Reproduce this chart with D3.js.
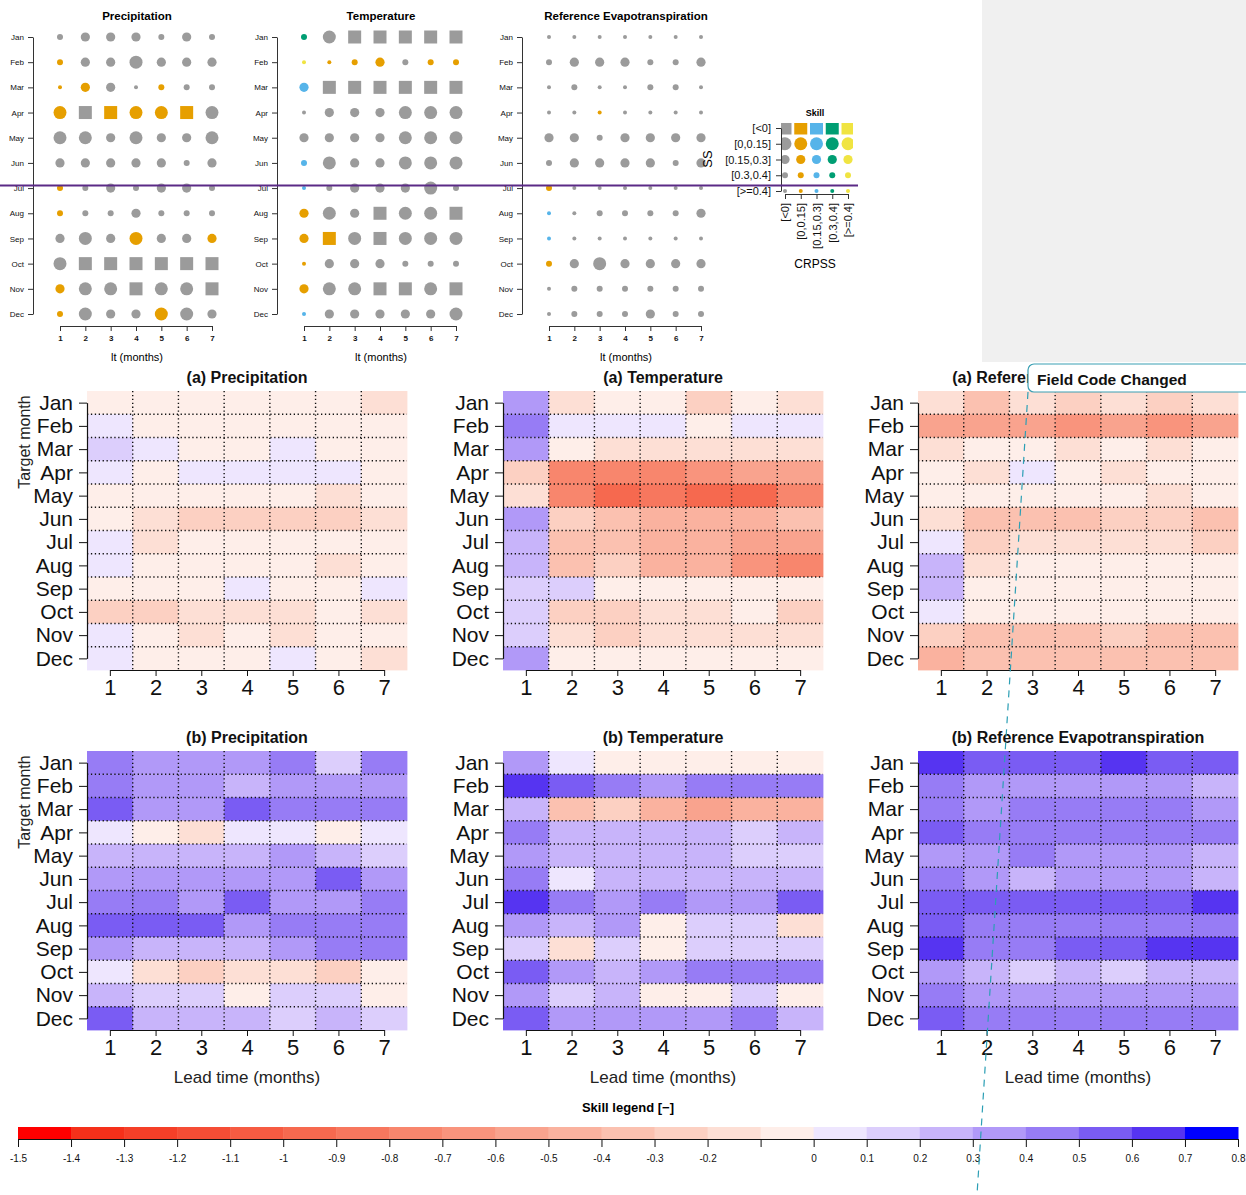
<!DOCTYPE html>
<html>
<head>
<meta charset="utf-8">
<script src="https://cdn.jsdelivr.net/npm/d3@7"></script>
<style>
  body { margin: 0; background: #fff; }
  svg { display: block; }
  text { font-family: "Liberation Sans", Arial, Helvetica, sans-serif; }
</style>
</head>
<body>
<svg id="chart" width="1246" height="1195"></svg>
<script>
// ---------- shared categories ----------
const months = ["Jan","Feb","Mar","Apr","May","Jun","Jul","Aug","Sep","Oct","Nov","Dec"];
const leadTimes = [1, 2, 3, 4, 5, 6, 7];
const ssClasses = ["[<0]", "[0,0.15]", "[0.15,0.3]", "[0.3,0.4]", "[>=0.4]"];
const crpssClasses = ["[<0]", "[0,0.15]", "[0.15,0.3]", "[0.3,0.4]", "[>=0.4]"];

// ---------- dot plots: SS class (symbol) and CRPSS class (colour), rows = target month, cols = lead time ----------
const dotPrecipSS = [
  [3,2,2,2,3,2,3],[3,2,2,1,2,2,2],[4,2,2,4,3,3,3],[1,0,0,1,1,0,1],
  [1,1,2,1,2,2,1],[2,2,2,2,2,3,2],[3,3,2,3,2,2,3],[3,3,3,2,3,3,3],
  [2,1,2,1,2,2,2],[1,0,0,0,0,0,0],[2,1,1,0,1,1,0],[3,1,2,2,1,1,2]
];
const dotPrecipCRPSS = [
  [0,0,0,0,0,0,0],[1,0,0,0,0,0,0],[1,1,0,0,1,0,0],[1,0,1,1,1,1,0],
  [0,0,0,0,0,0,0],[0,0,0,0,0,0,0],[1,0,0,0,0,0,0],[1,0,0,0,0,0,0],
  [0,0,0,1,0,0,1],[0,0,0,0,0,0,0],[1,0,0,0,0,0,0],[1,0,0,0,1,0,0]
];
const dotTempSS = [
  [3,1,0,0,0,0,0],[4,4,3,2,3,3,3],[2,0,0,0,0,0,0],[4,2,2,2,1,1,1],
  [2,2,2,2,1,1,1],[3,1,2,2,1,1,1],[4,3,2,2,2,1,3],[2,1,2,0,1,1,0],
  [2,0,1,0,1,1,1],[4,2,2,2,3,3,3],[2,1,1,0,0,1,0],[4,2,2,2,2,2,1]
];
const dotTempCRPSS = [
  [3,0,0,0,0,0,0],[4,1,1,1,0,1,1],[2,0,0,0,0,0,0],[0,0,0,0,0,0,0],
  [0,0,0,0,0,0,0],[2,0,0,0,0,0,0],[2,0,0,0,0,0,0],[1,0,0,0,0,0,0],
  [1,1,0,0,0,0,0],[1,0,0,0,0,0,0],[1,0,0,0,0,0,0],[2,0,0,0,0,0,0]
];
const dotEtSS = [
  [4,4,4,4,4,4,4],[3,2,2,2,3,3,2],[4,3,4,4,3,3,4],[4,4,4,4,4,4,4],
  [2,2,3,2,2,2,2],[3,2,2,2,2,3,2],[3,4,4,4,4,4,4],[4,4,3,3,3,3,2],
  [4,4,4,4,4,4,4],[3,2,1,2,2,2,2],[4,3,3,3,3,3,3],[4,3,3,3,2,3,3]
];
const dotEtCRPSS = [
  [0,0,0,0,0,0,0],[0,0,0,0,0,0,0],[0,0,0,0,0,0,0],[0,0,1,0,0,0,0],
  [0,0,0,0,0,0,0],[0,0,0,0,0,0,0],[1,0,0,0,0,0,0],[2,0,0,0,0,0,0],
  [2,0,0,0,0,0,0],[1,0,0,0,0,0,0],[0,0,0,0,0,0,0],[0,0,0,0,0,0,0]
];

// ---------- heatmaps: skill score, rows = target month, cols = lead time ----------
const heatPrecipA = [
  [-0.05,-0.05,-0.05,-0.05,-0.05,-0.05,-0.15],
  [ 0.05,-0.05,-0.05,-0.05,-0.05,-0.05,-0.05],
  [ 0.15, 0.05,-0.05,-0.05, 0.05,-0.05,-0.05],
  [ 0.05,-0.05, 0.05, 0.05, 0.05, 0.05,-0.05],
  [-0.05,-0.05,-0.05,-0.05,-0.05,-0.15,-0.05],
  [-0.05,-0.15,-0.25,-0.25,-0.25,-0.25,-0.15],
  [ 0.05,-0.15,-0.05,-0.05,-0.05,-0.05,-0.05],
  [ 0.05,-0.05,-0.05,-0.05,-0.05,-0.15,-0.05],
  [-0.05,-0.05,-0.05, 0.05,-0.05,-0.05, 0.05],
  [-0.25,-0.25,-0.15,-0.15,-0.15,-0.05,-0.15],
  [ 0.05,-0.05,-0.15,-0.05,-0.15,-0.05,-0.05],
  [ 0.05,-0.05,-0.05,-0.05, 0.05,-0.05,-0.15]
];
const heatTempA = [
  [ 0.35,-0.15,-0.05,-0.05,-0.25,-0.05,-0.15],
  [ 0.45, 0.05, 0.05, 0.05,-0.05, 0.05, 0.05],
  [ 0.32,-0.05,-0.15,-0.15,-0.15,-0.15,-0.15],
  [-0.25,-0.75,-0.75,-0.75,-0.65,-0.55,-0.55],
  [-0.15,-0.75,-0.95,-0.85,-0.95,-0.95,-0.75],
  [ 0.35,-0.25,-0.35,-0.45,-0.45,-0.45,-0.35],
  [ 0.25,-0.35,-0.35,-0.45,-0.45,-0.55,-0.55],
  [ 0.25,-0.35,-0.25,-0.45,-0.45,-0.65,-0.75],
  [ 0.15, 0.12,-0.05,-0.05,-0.05,-0.05,-0.05],
  [ 0.12,-0.25,-0.25,-0.15,-0.15,-0.05,-0.25],
  [ 0.12,-0.15,-0.25,-0.15,-0.15,-0.15,-0.15],
  [ 0.35,-0.05,-0.05,-0.05,-0.05,-0.05,-0.05]
];
const heatEtA = [
  [-0.15,-0.35,-0.15,-0.25,-0.15,-0.25,-0.15],
  [-0.55,-0.55,-0.55,-0.65,-0.55,-0.65,-0.55],
  [-0.15,-0.05,-0.05,-0.15,-0.05,-0.15,-0.05],
  [-0.05,-0.15, 0.05,-0.05,-0.15,-0.05,-0.05],
  [-0.05,-0.05,-0.05,-0.05,-0.05,-0.15,-0.05],
  [-0.15,-0.35,-0.35,-0.35,-0.25,-0.25,-0.35],
  [ 0.05,-0.25,-0.15,-0.15,-0.15,-0.15,-0.25],
  [ 0.25,-0.15,-0.05,-0.05,-0.05,-0.05,-0.05],
  [ 0.25,-0.05,-0.05,-0.05,-0.05,-0.05,-0.05],
  [ 0.05,-0.05,-0.05,-0.05,-0.05,-0.05,-0.05],
  [-0.25,-0.35,-0.35,-0.35,-0.25,-0.35,-0.35],
  [-0.45,-0.35,-0.35,-0.35,-0.35,-0.35,-0.35]
];
const heatPrecipB = [
  [ 0.45, 0.32, 0.32, 0.32, 0.45, 0.15, 0.45],
  [ 0.42, 0.32, 0.32, 0.22, 0.32, 0.35, 0.35],
  [ 0.55, 0.35, 0.35, 0.55, 0.42, 0.42, 0.45],
  [ 0.05,-0.05,-0.15, 0.05, 0.05,-0.05, 0.05],
  [ 0.25, 0.25, 0.25, 0.25, 0.35, 0.25, 0.15],
  [ 0.35, 0.35, 0.35, 0.32, 0.35, 0.52, 0.35],
  [ 0.45, 0.45, 0.35, 0.52, 0.35, 0.35, 0.45],
  [ 0.52, 0.52, 0.52, 0.35, 0.45, 0.45, 0.45],
  [ 0.35, 0.25, 0.25, 0.25, 0.32, 0.42, 0.42],
  [ 0.05,-0.15,-0.25,-0.15,-0.15,-0.25,-0.05],
  [ 0.25, 0.12, 0.15,-0.05, 0.15, 0.15,-0.05],
  [ 0.52, 0.25, 0.25, 0.25, 0.12, 0.25, 0.15]
];
const heatTempB = [
  [ 0.35, 0.05,-0.05,-0.05,-0.05,-0.05,-0.05],
  [ 0.65, 0.52, 0.45, 0.35, 0.45, 0.45, 0.45],
  [ 0.25,-0.35,-0.25,-0.45,-0.55,-0.45,-0.45],
  [ 0.45, 0.25, 0.25, 0.22, 0.22, 0.12, 0.25],
  [ 0.32, 0.22, 0.25, 0.22, 0.22, 0.15, 0.15],
  [ 0.42, 0.05, 0.25, 0.22, 0.25, 0.25, 0.22],
  [ 0.65, 0.45, 0.35, 0.42, 0.35, 0.32, 0.52],
  [ 0.32, 0.22, 0.35,-0.05, 0.12, 0.12,-0.15],
  [ 0.15,-0.15, 0.12,-0.05, 0.12, 0.12, 0.12],
  [ 0.52, 0.35, 0.25, 0.35, 0.45, 0.45, 0.45],
  [ 0.32, 0.12, 0.22,-0.05,-0.05, 0.12,-0.05],
  [ 0.52, 0.35, 0.32, 0.35, 0.35, 0.42, 0.22]
];
const heatEtB = [
  [ 0.62, 0.55, 0.52, 0.52, 0.65, 0.52, 0.55],
  [ 0.45, 0.35, 0.35, 0.35, 0.35, 0.32, 0.22],
  [ 0.45, 0.35, 0.45, 0.45, 0.45, 0.45, 0.35],
  [ 0.52, 0.45, 0.42, 0.45, 0.45, 0.42, 0.45],
  [ 0.35, 0.32, 0.42, 0.32, 0.32, 0.32, 0.25],
  [ 0.42, 0.32, 0.25, 0.32, 0.35, 0.32, 0.25],
  [ 0.55, 0.52, 0.52, 0.52, 0.52, 0.52, 0.62],
  [ 0.55, 0.42, 0.42, 0.45, 0.42, 0.45, 0.42],
  [ 0.65, 0.45, 0.45, 0.52, 0.52, 0.62, 0.62],
  [ 0.35, 0.22, 0.15, 0.22, 0.15, 0.22, 0.25],
  [ 0.45, 0.35, 0.32, 0.35, 0.35, 0.35, 0.35],
  [ 0.52, 0.42, 0.42, 0.42, 0.42, 0.42, 0.45]
];

// ---------- colour legend ticks ----------
const legendTicks = [-1.5,-1.4,-1.3,-1.2,-1.1,-1,-0.9,-0.8,-0.7,-0.6,-0.5,-0.4,-0.3,-0.2,-0.1,0,0.1,0.2,0.3,0.4,0.5,0.6,0.7,0.8];
const unlabelledTicks = [-0.1];

// ---------- styles ----------
const crpssColors = ["#9b9b9b", "#E69F00", "#56B4E9", "#009E73", "#F0E442"];
const symbolArea = [169, Math.PI * 6.5 * 6.5, Math.PI * 4.6 * 4.6, Math.PI * 3 * 3, Math.PI * 2 * 2];
const skillPalette = [
  "#ff0000","#f5301a","#f53f28","#f54d35","#f65b42","#f6694f","#f7775e","#f8866d",
  "#f9947d","#f9a38e","#fab29f","#fbc1b0","#fcd0c2","#fddfd5","#feeee9",
  "#eee6fe","#dccefc","#c8b4fa","#b199f8","#977cf5","#7a5cf3","#5634f1","#0000ff"
];
const skillColor = d3.scaleThreshold()
  .domain(d3.range(-14, 8).map(i => i / 10))
  .range(skillPalette);

const svg = d3.select("#chart");
const defs = svg.append("defs");

// side panel
svg.append("rect").attr("x", 982).attr("y", 0).attr("width", 264).attr("height", 362).attr("fill", "#f0f0f0");

function styleAxis(a, size, color) {
  a.selectAll("path,line").attr("stroke", color || "#222");
  a.selectAll("text").attr("font-size", size).attr("fill", "#111");
}

function symbolPath(ss) {
  return d3.symbol(ss === 0 ? d3.symbolSquare : d3.symbolCircle, symbolArea[ss])();
}

// ---------- dot plots ----------
const dotPanels = [
  { title: "Precipitation", x0: 33, ss: dotPrecipSS, cr: dotPrecipCRPSS },
  { title: "Temperature", x0: 277, ss: dotTempSS, cr: dotTempCRPSS },
  { title: "Reference Evapotranspiration", x0: 522, ss: dotEtSS, cr: dotEtCRPSS }
];

dotPanels.forEach(p => {
  const g = svg.append("g");
  const x = d3.scaleLinear().domain([1, 7]).range([p.x0 + 27, p.x0 + 179]);
  const y = d3.scalePoint().domain(months).range([37, 314]);

  const ya = g.append("g").attr("transform", `translate(${p.x0},0)`)
    .call(d3.axisLeft(y).tickSize(5).tickSizeOuter(0).tickPadding(4));
  styleAxis(ya, 8, "#333");
  const xa = g.append("g").attr("transform", "translate(0,326)")
    .call(d3.axisBottom(x).tickValues(leadTimes).tickFormat(d3.format("d")).tickSize(5).tickSizeOuter(0).tickPadding(4));
  styleAxis(xa, 8, "#333");
  xa.selectAll("text").attr("font-weight", "bold");

  g.append("text").attr("x", p.x0 + 104).attr("y", 20).attr("text-anchor", "middle")
    .attr("font-weight", "bold").attr("font-size", 11.5).text(p.title);
  g.append("text").attr("x", p.x0 + 104).attr("y", 361).attr("text-anchor", "middle")
    .attr("font-size", 11).text("lt (months)");

  const cells = [];
  months.forEach((m, i) => leadTimes.forEach((lt, j) =>
    cells.push({ m, lt, ss: p.ss[i][j], cr: p.cr[i][j] })));
  g.selectAll("path.sym").data(cells).join("path").attr("class", "sym")
    .attr("d", d => symbolPath(d.ss))
    .attr("transform", d => `translate(${x(d.lt)},${y(d.m)})`)
    .attr("fill", d => crpssColors[d.cr]);
});

// ---------- symbol legend ----------
{
  const g = svg.append("g");
  const xl = d3.scalePoint().domain(crpssClasses).range([785, 848]);
  const yl = d3.scalePoint().domain(ssClasses).range([128, 191]);
  defs.append("clipPath").attr("id", "legclip").append("rect")
    .attr("x", 781).attr("y", 123).attr("width", 72).attr("height", 74);
  const combos = [];
  ssClasses.forEach((s, i) => crpssClasses.forEach((c, j) => combos.push({ s, c, i, j })));
  g.append("g").attr("clip-path", "url(#legclip)")
    .selectAll("path").data(combos).join("path")
    .attr("d", d => symbolPath(d.i))
    .attr("transform", d => `translate(${xl(d.c)},${yl(d.s)})`)
    .attr("fill", d => crpssColors[d.j]);

  const ya = g.append("g").attr("transform", "translate(781,0)")
    .call(d3.axisLeft(yl).tickSize(5).tickSizeOuter(0).tickPadding(5));
  styleAxis(ya, 11, "#333");
  const xa = g.append("g").attr("transform", "translate(0,194)")
    .call(d3.axisBottom(xl).tickSize(5).tickSizeOuter(0));
  styleAxis(xa, 11, "#333");
  xa.selectAll("text").attr("transform", "rotate(-90)").attr("text-anchor", "end")
    .attr("x", -9).attr("y", 0).attr("dy", "0.35em");

  g.append("text").attr("x", 815).attr("y", 116).attr("text-anchor", "middle")
    .attr("font-weight", "bold").attr("font-size", 9).text("Skill");
  g.append("text").attr("transform", "translate(712,159) rotate(-90)").attr("text-anchor", "middle")
    .attr("font-size", 13).text("SS");
  g.append("text").attr("x", 815).attr("y", 268).attr("text-anchor", "middle")
    .attr("font-size", 12).text("CRPSS");
}

// divider line across the dot plots
svg.append("line").attr("x1", 0).attr("x2", 858).attr("y1", 185.5).attr("y2", 185.5)
  .attr("stroke", "#5b2a86").attr("stroke-width", 2);

// ---------- heatmaps ----------
const heatW = 320, heatH = 279;
// area left of the comment balloon; titles are clipped to it
defs.append("clipPath").attr("id", "titleclip").append("rect")
  .attr("x", 0).attr("y", 0).attr("width", 1028).attr("height", 1195);

const heatPanels = [
  { title: "(a) Precipitation", x0: 87, y0: 391, data: heatPrecipA, yLab: true, xLab: false },
  { title: "(a) Temperature", x0: 503, y0: 391, data: heatTempA, yLab: false, xLab: false },
  { title: "(a) Reference Evapotranspiration", x0: 918, y0: 391, data: heatEtA, yLab: false, xLab: false, clip: true },
  { title: "(b) Precipitation", x0: 87, y0: 751, data: heatPrecipB, yLab: true, xLab: true },
  { title: "(b) Temperature", x0: 503, y0: 751, data: heatTempB, yLab: false, xLab: true },
  { title: "(b) Reference Evapotranspiration", x0: 918, y0: 751, data: heatEtB, yLab: false, xLab: true }
];

heatPanels.forEach(p => {
  const g = svg.append("g");
  const xb = d3.scaleBand().domain(leadTimes).range([p.x0, p.x0 + heatW]);
  const yb = d3.scaleBand().domain(months).range([p.y0, p.y0 + heatH]);
  const xp = d3.scalePoint().domain(leadTimes).range([p.x0 + heatW / 14, p.x0 + heatW - heatW / 14]);
  const yp = d3.scalePoint().domain(months).range([p.y0 + heatH / 24, p.y0 + heatH - heatH / 24]);

  const cells = [];
  months.forEach((m, i) => leadTimes.forEach((lt, j) => cells.push({ m, lt, v: p.data[i][j] })));
  g.selectAll("rect").data(cells).join("rect")
    .attr("x", d => xb(d.lt)).attr("y", d => yb(d.m))
    .attr("width", xb.bandwidth() + 0.4).attr("height", yb.bandwidth() + 0.4)
    .attr("fill", d => skillColor(d.v));

  // dotted cell borders
  g.selectAll("line.vg").data(leadTimes.slice(1)).join("line").attr("class", "vg")
    .attr("x1", d => xb(d)).attr("x2", d => xb(d))
    .attr("y1", p.y0).attr("y2", p.y0 + heatH);
  g.selectAll("line.hg").data(months.slice(1)).join("line").attr("class", "hg")
    .attr("x1", p.x0).attr("x2", p.x0 + heatW)
    .attr("y1", d => yb(d)).attr("y2", d => yb(d));
  g.selectAll("line.vg,line.hg").attr("stroke", "#111").attr("stroke-width", 1.4)
    .attr("stroke-dasharray", "1.3,2.6");

  const ya = g.append("g").attr("transform", `translate(${p.x0},0)`)
    .call(d3.axisLeft(yp).tickSize(8).tickSizeOuter(0).tickPadding(6));
  styleAxis(ya, 21, "#111");
  ya.select(".domain").attr("stroke-width", 1.2);
  const xa = g.append("g").attr("transform", `translate(0,${p.y0 + heatH})`)
    .call(d3.axisBottom(xp).tickSize(6).tickSizeOuter(0).tickPadding(3));
  styleAxis(xa, 22, "#111");
  xa.select(".domain").attr("stroke-width", 1.2);

  const t = g.append("text").attr("x", p.x0 + heatW / 2).attr("y", p.y0 - 8).attr("text-anchor", "middle")
    .attr("font-weight", "bold").attr("font-size", 16).attr("fill", "#111").text(p.title);
  if (p.clip) t.attr("clip-path", "url(#titleclip)");
  if (p.yLab) {
    g.append("text").attr("transform", `translate(30,${p.y0 + 51}) rotate(-90)`)
      .attr("text-anchor", "middle").attr("font-size", 16).attr("fill", "#222").text("Target month");
  }
  if (p.xLab) {
    g.append("text").attr("x", p.x0 + heatW / 2).attr("y", p.y0 + heatH + 53)
      .attr("text-anchor", "middle").attr("font-size", 17).attr("fill", "#222").text("Lead time (months)");
  }
});

// ---------- colour legend ----------
{
  const g = svg.append("g");
  const x = d3.scaleLinear().domain([-1.5, 0.8]).range([18, 1238]);
  const bins = skillPalette.map((c, i) => ({ lo: -1.5 + i * 0.1, hi: -1.5 + (i + 1) * 0.1, c }));
  g.selectAll("rect").data(bins).join("rect")
    .attr("x", d => x(d.lo)).attr("width", d => x(d.hi) - x(d.lo) + 0.5)
    .attr("y", 1127).attr("height", 12).attr("fill", d => d.c);
  const fmt = d => unlabelledTicks.some(u => Math.abs(u - d) < 1e-9) ? "" : String(Math.round(d * 10) / 10);
  const xa = g.append("g").attr("transform", "translate(0,1139)")
    .call(d3.axisBottom(x).tickValues(legendTicks).tickFormat(fmt).tickSize(8).tickSizeOuter(0).tickPadding(8));
  styleAxis(xa, 10, "#111");
  xa.select(".domain").attr("stroke-width", 1.2);
  g.append("text").attr("x", 628).attr("y", 1112).attr("text-anchor", "middle")
    .attr("font-weight", "bold").attr("font-size", 13).text("Skill legend [\u2212]");
}

// ---------- review comment marker ----------
svg.append("line").attr("x1", 1028).attr("y1", 392).attr("x2", 977).attr("y2", 1195)
  .attr("stroke", "#2c9fb5").attr("stroke-width", 1.2).attr("stroke-dasharray", "7,6");
svg.append("rect").attr("x", 1028).attr("y", 364).attr("width", 240).attr("height", 28).attr("rx", 6)
  .attr("fill", "#fff").attr("stroke", "#3a9fb3").attr("stroke-width", 1.2);
svg.append("text").attr("x", 1037).attr("y", 384.5).attr("font-family", "'Open Sans', 'DejaVu Sans', sans-serif")
  .attr("font-weight", "bold").attr("font-size", 15.5).attr("fill", "#111").text("Field Code Changed");
</script>
</body>
</html>
